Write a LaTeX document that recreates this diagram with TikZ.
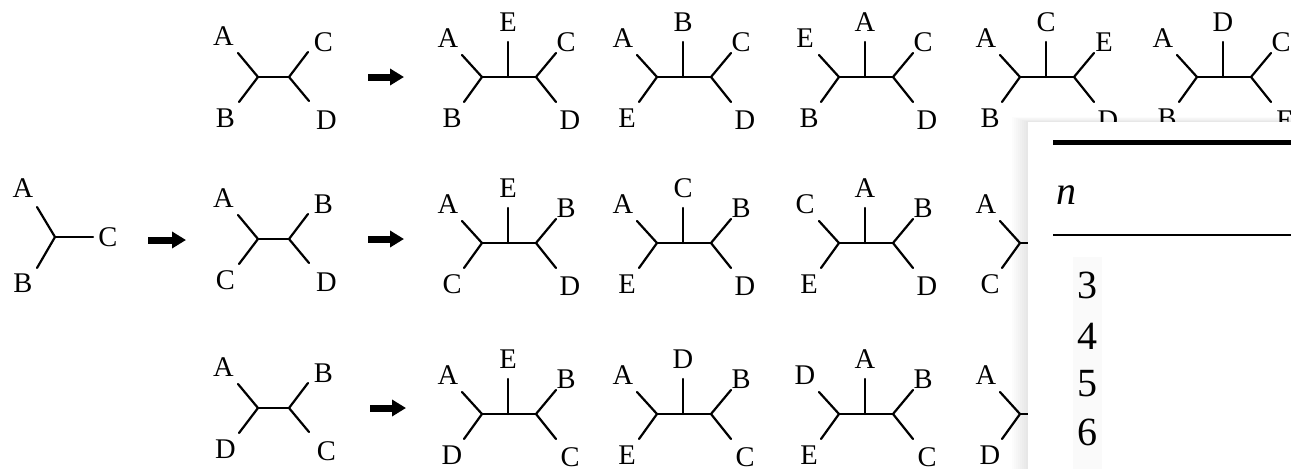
\documentclass[tikz,border=0pt]{standalone}
\usepackage{fontspec}
\setmainfont{Liberation Serif}
\usetikzlibrary{arrows.meta}
\tikzset{
  edge/.style={line width=2.2pt, line cap=round},
  lab/.style={inner sep=0pt, font=\fontsize{28.5}{30}\selectfont},
  tab/.style={inner sep=0pt, font=\fontsize{40}{42}\selectfont},
  bigarrow/.style={line width=7pt, -{Triangle[length=14pt,width=16pt]}},
}
% 5-taxon tree: name, x, y, TL, TOP, TR, BL, BR
\newcommand\FiveTree[8]{%
  \begin{scope}[shift={(#2,#3)}]
    \coordinate (#1m) at (0,0);
    \coordinate (#1l) at (-26,0);
    \coordinate (#1r) at (28,0);
    \coordinate (#1tle) at (-46,-22);
    \coordinate (#1ble) at (-44,25);
    \coordinate (#1te) at (0,-35);
    \coordinate (#1tre) at (48,-24);
    \coordinate (#1bre) at (48,25);
    \node[lab] (#1tl) at (-60,-39) {#4};
    \node[lab] (#1t)  at (0,-55) {#5};
    \node[lab] (#1tr) at (58,-35) {#6};
    \node[lab] (#1bl) at (-56,41) {#7};
    \node[lab] (#1br) at (62,43) {#8};
    \draw[edge] (#1tle) -- (#1l) -- (#1ble);
    \draw[edge] (#1l) -- (#1r);
    \draw[edge] (#1tre) -- (#1r) -- (#1bre);
    \draw[edge] (#1m) -- (#1te);
  \end{scope}}
% 4-taxon tree: name, x, y, TL, TR, BL, BR
\newcommand\FourTree[7]{%
  \begin{scope}[shift={(#2,#3)}]
    \coordinate (#1l) at (-15.5,0);
    \coordinate (#1r) at (15.5,0);
    \coordinate (#1tle) at (-35.5,-24);
    \coordinate (#1ble) at (-34.5,25);
    \coordinate (#1tre) at (34.5,-25);
    \coordinate (#1bre) at (35.5,24);
    \node[lab] (#1tl) at (-50,-41) {#4};
    \node[lab] (#1tr) at (50,-35) {#5};
    \node[lab] (#1bl) at (-48,41) {#6};
    \node[lab] (#1br) at (53,43) {#7};
    \draw[edge] (#1tle) -- (#1l) -- (#1ble);
    \draw[edge] (#1l) -- (#1r);
    \draw[edge] (#1tre) -- (#1r) -- (#1bre);
  \end{scope}}
\begin{document}
\begin{tikzpicture}[x=1pt,y=-1pt]
\useasboundingbox (0,0) rectangle (1291,469);
\fill[white] (0,0) rectangle (1291,469);

% 3-taxon tree
\coordinate (t3c) at (55,237);
\coordinate (t3ae) at (37,207);
\coordinate (t3be) at (37,268);
\coordinate (t3ce) at (93,237);
\node[lab] (t3a) at (23,188) {A};
\node[lab] (t3b) at (23,283) {B};
\node[lab] (t3cl) at (108,237) {C};
\draw[edge] (t3ae) -- (t3c) -- (t3be);
\draw[edge] (t3c) -- (t3ce);

% arrows
\coordinate (a0s) at (148,240); \coordinate (a0e) at (186,240);
\coordinate (a1s) at (368,77);  \coordinate (a1e) at (404,77);
\coordinate (a2s) at (368,239); \coordinate (a2e) at (404,239);
\coordinate (a3s) at (370,408); \coordinate (a3e) at (406,408);
\draw[bigarrow] (a0s) -- (a0e);
\draw[bigarrow] (a1s) -- (a1e);
\draw[bigarrow] (a2s) -- (a2e);
\draw[bigarrow] (a3s) -- (a3e);

% 4-taxon trees
\FourTree{q1}{273.5}{77}{A}{C}{B}{D}
\FourTree{q2}{273.5}{239}{A}{B}{C}{D}
\FourTree{q3}{273.5}{408}{A}{B}{D}{C}

% row 1
\FiveTree{r1a}{508}{77}{A}{E}{C}{B}{D}
\FiveTree{r1b}{683}{77}{A}{B}{C}{E}{D}
\FiveTree{r1c}{865}{77}{E}{A}{C}{B}{D}
\FiveTree{r1d}{1046}{77}{A}{C}{E}{B}{D}
\FiveTree{r1e}{1223}{77}{A}{D}{C}{B}{E}
% row 2
\FiveTree{r2a}{508}{243}{A}{E}{B}{C}{D}
\FiveTree{r2b}{683}{243}{A}{C}{B}{E}{D}
\FiveTree{r2c}{865}{243}{C}{A}{B}{E}{D}
\FiveTree{r2d}{1046}{243}{A}{B}{E}{C}{D}
\FiveTree{r2e}{1223}{243}{A}{D}{B}{C}{E}
% row 3
\FiveTree{r3a}{508}{414}{A}{E}{B}{D}{C}
\FiveTree{r3b}{683}{414}{A}{D}{B}{E}{C}
\FiveTree{r3c}{865}{414}{D}{A}{B}{E}{C}
\FiveTree{r3d}{1046}{414}{A}{B}{E}{D}{C}
\FiveTree{r3e}{1223}{414}{A}{C}{B}{D}{E}

% overlay panel with soft shadow
\foreach \i in {1,...,8} {
  \fill[black, opacity=0.012] (1028-2*\i,122-0.6*\i) rectangle (1291,469);
}
\fill[white] (1028,122) rectangle (1291,469);
\fill[black!2] (1073,257) rectangle (1102,469);

% table
\coordinate (rt1) at (1053,142); \coordinate (rt2) at (1295,142);
\coordinate (rm1) at (1053,235); \coordinate (rm2) at (1295,235);
\draw[line width=5pt] (rt1) -- (rt2);
\draw[line width=2.5pt] (rm1) -- (rm2);
\node[tab] (hn) at (1066,195) {\itshape n};
\node[tab] (v3) at (1087,285) {3};
\node[tab] (v4) at (1087,336) {4};
\node[tab] (v5) at (1087,384) {5};
\node[tab] (v6) at (1087,432) {6};
\end{tikzpicture}
\end{document}
